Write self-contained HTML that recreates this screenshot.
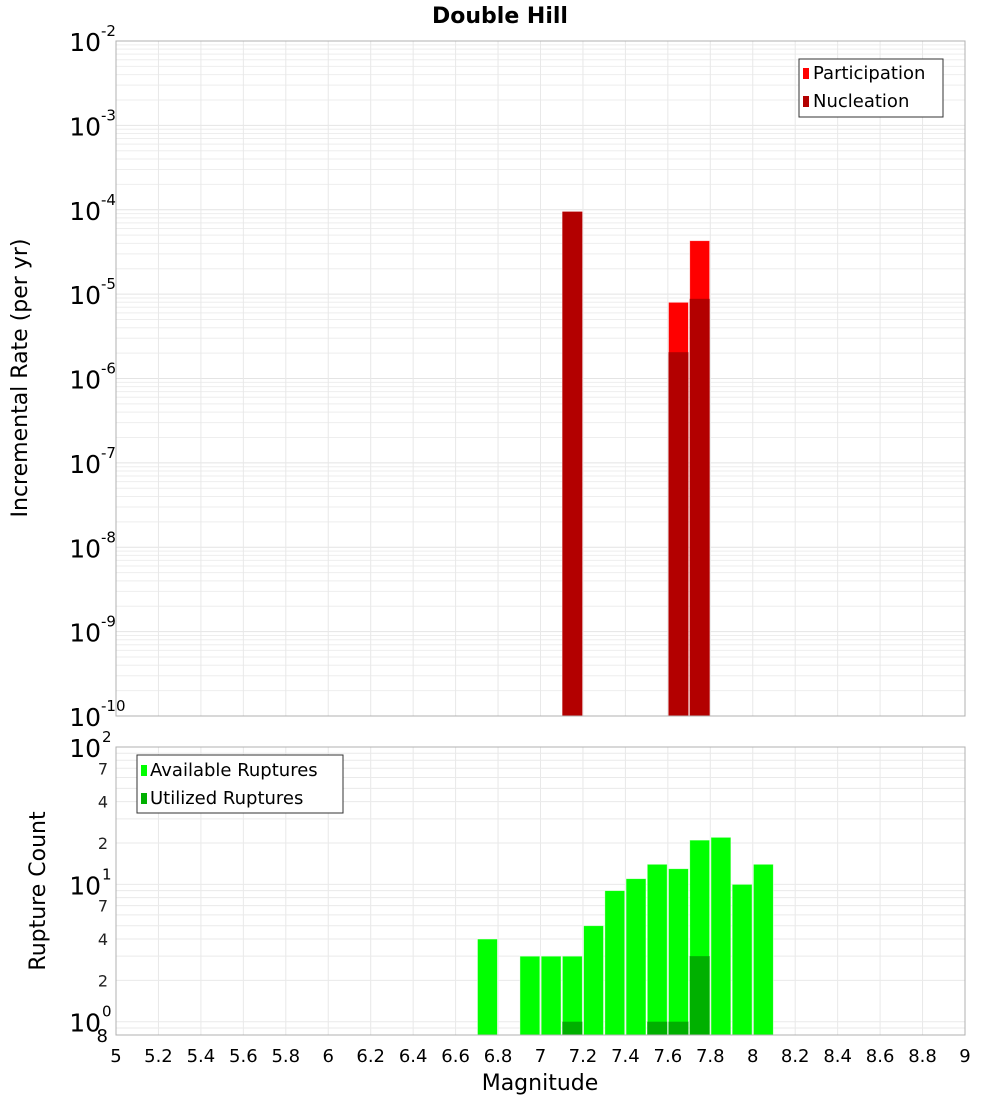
<!DOCTYPE html>
<html><head><meta charset="utf-8"><style>
html,body{margin:0;padding:0;background:#fff;}
svg{display:block;font-family:"DejaVu Sans","Liberation Sans",sans-serif;}
</style></head><body>
<svg id="chart" width="1000" height="1100" viewBox="0 0 1000 1100" xmlns="http://www.w3.org/2000/svg">
<text x="500" y="23" text-anchor="middle" font-size="22" font-weight="bold">Double Hill</text>
<g id="topg"></g><g id="botg"></g>
</svg>
<script>
// ---- data ----
const rateMags = [7.15, 7.65, 7.75];
const participation = [9.5e-5, 8.0e-6, 4.3e-5];
const nucleation = [9.5e-5, 2.05e-6, 8.8e-6];
const countMags = [6.75, 6.95, 7.05, 7.15, 7.25, 7.35, 7.45, 7.55, 7.65, 7.75, 7.85, 7.95, 8.05];
const available = [4, 3, 3, 3, 5, 9, 11, 14, 13, 21, 22, 10, 14];
const utilized = [0, 0, 0, 1, 0, 0, 0, 1, 1, 3, 0, 0, 0];
const xTicks = [5,5.2,5.4,5.6,5.8,6,6.2,6.4,6.6,6.8,7,7.2,7.4,7.6,7.8,8,8.2,8.4,8.6,8.8,9];
const topExps = [-2,-3,-4,-5,-6,-7,-8,-9,-10];
const botMinor = [7,4,2];

const NS="http://www.w3.org/2000/svg";
function mk(parent,tag,attrs){const e=document.createElementNS(NS,tag);for(const k in attrs)e.setAttribute(k,attrs[k]);parent.appendChild(e);return e;}
const L=116,R=965;
const x=m=>L+(m-5)/(9-5)*(R-L);
const T1=41,B1=716, yTop=v=>T1+(-2-Math.log10(v))/8*(B1-T1);
const T2=747,B2=1035, lo=Math.log10(0.8), yBot=v=>T2+(2-Math.log10(v))/(2-lo)*(B2-T2);
const barW=0.094*(R-L)/4;

const topG=document.getElementById('topg'), botG=document.getElementById('botg');
// top grid
for(let e=-10;e<-2;e++)for(let k=1;k<10;k++){const v=k*Math.pow(10,e);const y=yTop(v);
 const g=mk(topG,'line',{x1:L,x2:R,y1:y,y2:y,stroke:k==1?'#e4e4e4':'#eeeeee','stroke-width':1});
 }
xTicks.forEach(t=>{const g=mk(topG,'line',{x1:x(t),x2:x(t),y1:T1,y2:B1,stroke:'#e8e8e8'});
 
 const g2=mk(botG,'line',{x1:x(t),x2:x(t),y1:T2,y2:B2,stroke:'#e8e8e8'});
 });
// top bars
rateMags.forEach((m,i)=>{
 const p=mk(topG,'rect',{x:x(m)-barW/2,y:yTop(participation[i]),width:barW,height:B1-yTop(participation[i]),fill:'#ff0000',stroke:'#fff','stroke-width':0.8,'stroke-opacity':0.6});
 
 const n=mk(topG,'rect',{x:x(m)-barW/2,y:yTop(nucleation[i]),width:barW,height:B1-yTop(nucleation[i]),fill:'#b30000'});
 });
const f1=mk(topG,'rect',{x:L,y:T1,width:R-L,height:B1-T1,fill:'none',stroke:'#b0b0b0'});

topExps.forEach(e=>{const y=yTop(Math.pow(10,e));
 const t=mk(topG,'text',{x:101,y:y+10,'text-anchor':'end','font-size':25});t.textContent='10';
 
 const s=mk(topG,'text',{x:101,y:y-5,'font-size':15});s.textContent=String(e);
 });
const yl=mk(topG,'text',{x:0,y:0,transform:'translate(27,378) rotate(-90)','text-anchor':'middle','font-size':22});yl.textContent='Incremental Rate (per yr)';

// legend top
const lg=mk(topG,'g',{});
mk(lg,'rect',{x:799,y:59,width:144,height:58,fill:'#fff',stroke:'#333'});
[['Participation','#ff0000',73],['Nucleation','#b30000',101]].forEach(([s,c,y])=>{
 const it=mk(lg,'g',{});
 mk(it,'rect',{x:803,y:y-5,width:6,height:11,fill:c});
 const t=mk(it,'text',{x:813,y:y+6,'font-size':18});t.textContent=s;});
// bottom grid
for(let e=-1;e<2;e++)for(let k=1;k<10;k++){const v=k*Math.pow(10,e);if(v<0.8)continue;const y=yBot(v);
 const g=mk(botG,'line',{x1:L,x2:R,y1:y,y2:y,stroke:'#eaeaea'});
 }
countMags.forEach((m,i)=>{
 const a=mk(botG,'rect',{x:x(m)-barW/2,y:yBot(available[i]),width:barW,height:B2-yBot(available[i]),fill:'#00ff00',stroke:'#fff','stroke-width':0.8,'stroke-opacity':0.6});
 
 if(utilized[i]>0){const u=mk(botG,'rect',{x:x(m)-barW/2,y:yBot(utilized[i]),width:barW,height:B2-yBot(utilized[i]),fill:'#00b000'});
 }});
const f2=mk(botG,'rect',{x:L,y:T2,width:R-L,height:B2-T2,fill:'none',stroke:'#b0b0b0'});

[[2,'2'],[1,'1'],[0,'0']].forEach(([e,s])=>{const y=yBot(Math.pow(10,e));
 const t=mk(botG,'text',{x:101,y:y+10,'text-anchor':'end','font-size':25});t.textContent='10';
 
 const u=mk(botG,'text',{x:102,y:y-5,'font-size':15});u.textContent=s;
 });
[1,0].forEach(e=>botMinor.forEach(k=>{const y=yBot(k*Math.pow(10,e));
 const t=mk(botG,'text',{x:108,y:y+6,'text-anchor':'end','font-size':16,fill:'#222'});t.textContent=String(k);
 }));
const e8=mk(botG,'text',{x:108,y:1042,'text-anchor':'end','font-size':18});e8.textContent='8';

const yl2=mk(botG,'text',{x:0,y:0,transform:'translate(45,891) rotate(-90)','text-anchor':'middle','font-size':22});yl2.textContent='Rupture Count';

xTicks.forEach(t=>{const tx=mk(botG,'text',{x:x(t),y:1062,'text-anchor':'middle','font-size':18});tx.textContent=String(t);
 });
const xl=mk(botG,'text',{x:540,y:1090,'text-anchor':'middle','font-size':22});xl.textContent='Magnitude';

const lg2=mk(botG,'g',{});
mk(lg2,'rect',{x:137,y:755,width:206,height:58,fill:'#fff',stroke:'#333'});
[['Available Ruptures','#00ff00',770],['Utilized Ruptures','#00b000',798]].forEach(([s,c,y])=>{
 const it=mk(lg2,'g',{});
 mk(it,'rect',{x:141,y:y-5,width:6,height:11,fill:c});
 const t=mk(it,'text',{x:150,y:y+6,'font-size':18});t.textContent=s;});
</script>
</body></html>
